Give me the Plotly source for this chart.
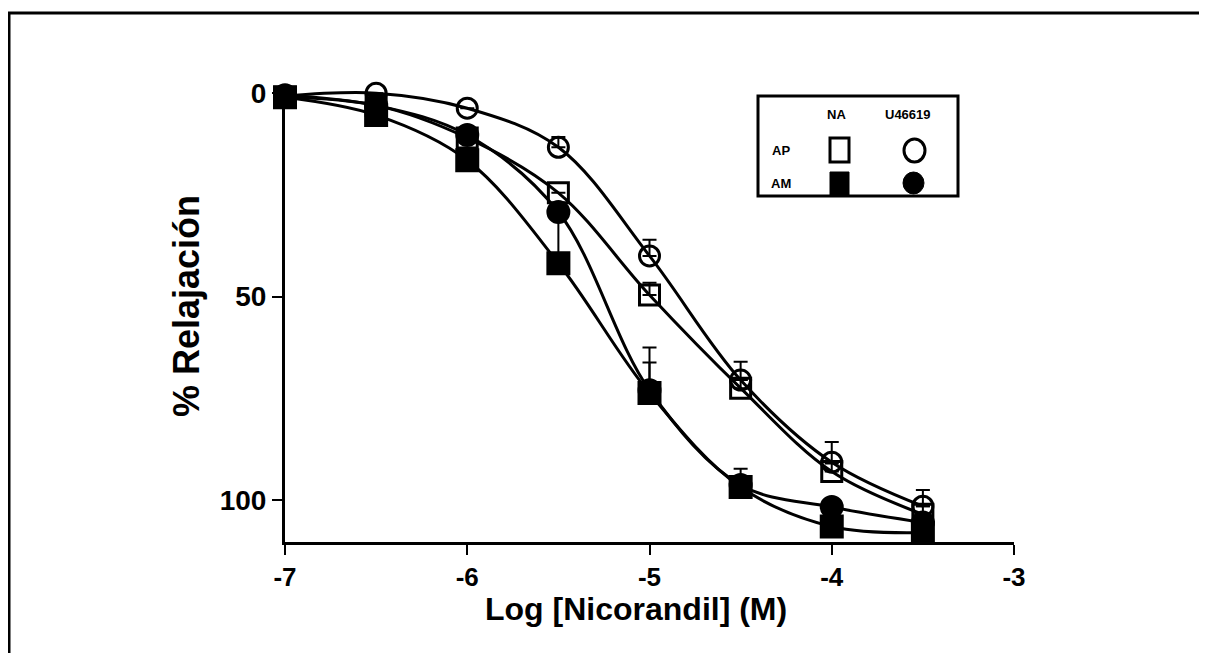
import plotly.graph_objects as go

# ---- data ----
log_conc = [-7, -6.5, -6, -5.5, -5, -4.5, -4, -3.5]
ap_na = [1, 3, 11, 24.5, 49.6, 72.5, 93, 103.5]          # AP, NA (open square)
ap_u46619 = [0.7, 0, 3.7, 13.3, 40, 70.5, 90.7, 101.5]    # AP, U46619 (open circle)
am_na = [1, 5.4, 16.5, 41.8, 73.7, 96.8, 106.5, 108]      # AM, NA (filled square)
am_u46619 = [0.5, 3, 10.3, 29.2, 73, 96.3, 101.7, 105.5]  # AM, U46619 (filled circle)

ap_na_err = [0, 0, 0, 0, 3, 2, 2, 2]
ap_u46619_err = [0, 0, 0, 2.5, 4, 4.5, 5, 4]
am_na_err = [0, 0, 0, 12, 7.5, 0, 0, 0]
am_u46619_err = [0, 0, 0, 0, 10.5, 4, 0, 0]

x_ticks = [-7, -6, -5, -4, -3]
y_ticks = [0, 50, 100]
legend_cols = ["NA", "U46619"]
legend_rows = ["AP", "AM"]

FONT = "Liberation Sans, Arial, sans-serif"

# page body margin of the html page (default 8px)
OFF = 8
# plot area in screen pixels
L, R, T, B = 285, 1014, 85, 542
W, H = 1207 - OFF, 653 - OFF


def px(x):
    return (x - L) / (R - L)


def py(y):
    return (B - y) / (B - T)


fig = go.Figure()

series = [
    (ap_na, ap_na_err, "square-open", 20),
    (ap_u46619, ap_u46619_err, "circle-open", 20),
    (am_u46619, am_u46619_err, "circle", 21),
    (am_na, am_na_err, "square", 21),
]
for vals, err, sym, size in series:
    fig.add_trace(go.Scatter(
        x=log_conc, y=vals, mode="lines+markers",
        line=dict(color="black", width=3, shape="spline", smoothing=1.0),
        marker=dict(symbol=sym, size=size, color="black",
                    line=dict(color="black", width=3)),
        error_y=dict(type="data", symmetric=False,
                     array=[0] * len(err), arrayminus=err,
                     color="black", thickness=2, width=7),
        showlegend=False, cliponaxis=False,
    ))

shapes = []
# page frame (top and left edge of scanned figure)
shapes.append(dict(type="line", xref="paper", yref="paper",
                   x0=px(8), x1=px(1207), y0=py(13), y1=py(13),
                   line=dict(color="black", width=3)))
shapes.append(dict(type="line", xref="paper", yref="paper",
                   x0=px(9), x1=px(9), y0=py(13), y1=py(653),
                   line=dict(color="black", width=3)))
# legend box
shapes.append(dict(type="rect", xref="paper", yref="paper",
                   x0=px(758), x1=px(958), y0=py(96), y1=py(196),
                   line=dict(color="black", width=3), fillcolor="white"))
# legend symbols
shapes.append(dict(type="rect", xref="paper", yref="paper",
                   x0=px(830), x1=px(849), y0=py(138), y1=py(162),
                   line=dict(color="black", width=3)))
shapes.append(dict(type="circle", xref="paper", yref="paper",
                   x0=px(904), x1=px(925), y0=py(139), y1=py(162),
                   line=dict(color="black", width=3)))
shapes.append(dict(type="rect", xref="paper", yref="paper",
                   x0=px(830), x1=px(849), y0=py(172), y1=py(195),
                   line=dict(color="black", width=1), fillcolor="black"))
shapes.append(dict(type="circle", xref="paper", yref="paper",
                   x0=px(903), x1=px(924), y0=py(172), y1=py(194),
                   line=dict(color="black", width=1), fillcolor="black"))

annotations = [
    dict(text=legend_cols[0], x=px(836), y=py(114)),
    dict(text=legend_cols[1], x=px(908), y=py(114)),
    dict(text=legend_rows[0], x=px(781), y=py(150)),
    dict(text=legend_rows[1], x=px(781), y=py(184)),
]
annotations = [dict(a, xref="paper", yref="paper", showarrow=False,
                    xanchor="center", yanchor="middle",
                    font=dict(family=FONT, size=13, color="black", weight="bold"))
               for a in annotations]
annotations.append(dict(text="Log [Nicorandil] (M)", xref="paper", yref="paper",
                        x=px(636), y=py(609), showarrow=False,
                        xanchor="center", yanchor="middle",
                        font=dict(family=FONT, size=32, color="black", weight="bold")))
annotations.append(dict(text="% Relajación", xref="paper", yref="paper",
                        x=px(186), y=py(306), showarrow=False, textangle=-90,
                        xanchor="center", yanchor="middle",
                        font=dict(family=FONT, size=36, color="black", weight="bold")))

fig.update_layout(
    width=W, height=H,
    margin=dict(l=L - OFF, r=W - (R - OFF), t=T - OFF, b=H - (B - OFF)),
    paper_bgcolor="white", plot_bgcolor="white",
    shapes=shapes, annotations=annotations,
    xaxis=dict(range=[-7, -3], tickvals=x_ticks,
               ticktext=[str(v) for v in x_ticks],
               showgrid=False, zeroline=False,
               showline=True, linecolor="black", linewidth=3,
               ticks="outside", ticklen=10, tickwidth=2, tickcolor="black",
               tickfont=dict(family=FONT, size=26, color="black", weight="bold")),
    yaxis=dict(range=[110.3, -2], tickvals=y_ticks,
               ticktext=[str(v) for v in y_ticks],
               showgrid=False, zeroline=False,
               showline=True, linecolor="black", linewidth=3,
               ticks="outside", ticklen=10, tickwidth=2, tickcolor="black",
               tickfont=dict(family=FONT, size=28, color="black", weight="bold")),
)

fig.write_html("out.html")
